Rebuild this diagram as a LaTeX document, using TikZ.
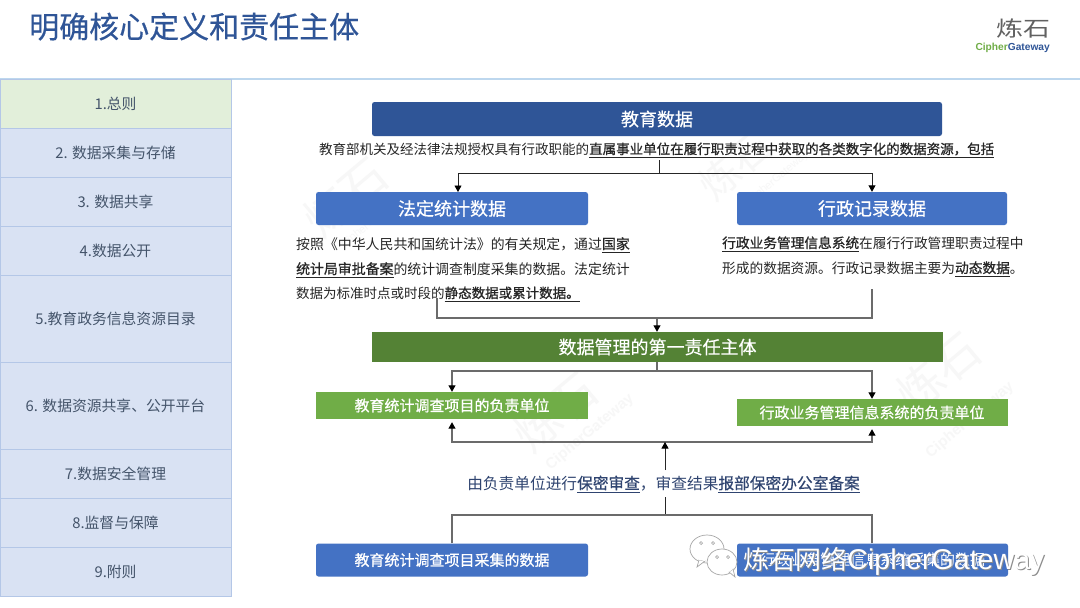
\documentclass[tikz,border=0pt]{standalone}
\usepackage{fontspec}
\setmainfont{Noto Sans CJK SC}
\newfontfamily\latinwm{Liberation Sans}
\newfontfamily\medf[FakeBold=0.4]{Noto Sans CJK SC}
\newfontfamily\semif[FakeBold=0.8]{Noto Sans CJK SC}
\usetikzlibrary{arrows.meta,calc}
\definecolor{navy}{HTML}{2F5597}
\definecolor{midblue}{HTML}{4472C4}
\definecolor{dkgreen}{HTML}{548235}
\definecolor{ltgreen}{HTML}{70AD47}
\definecolor{sideblue}{HTML}{D9E2F3}
\definecolor{sidegreen}{HTML}{E2EFDA}
\definecolor{sideline}{HTML}{B4C7E7}
\definecolor{topline}{HTML}{BDD7EE}
\definecolor{sidetext}{HTML}{44546A}
\definecolor{bodytxt}{HTML}{262626}
\definecolor{notetxt}{HTML}{2F4470}
\definecolor{connA}{HTML}{262626}
\definecolor{connB}{HTML}{6B6B6B}
\newcommand\fs[1]{\fontsize{#1}{#1}\selectfont}
\newcommand\ulb[1]{\vtop{\hbox{\semif #1}\kern1.8pt\hrule height .8pt}}
\newcommand\uln[1]{\vtop{\hbox{\medf #1}\kern1.8pt\hrule height .8pt}}
\newcommand\boxtxt[1]{\raisebox{1pt}{\medf\fs{18}#1}}
\newcommand\siderow[5][sideblue]{\node[side,fill=#1,minimum width=231pt,minimum height=#4pt] (#2) at (115.5,#3) {\fs{14.8}#5};}
\tikzset{
  side/.style={draw=sideline,line width=.9pt,fill=sideblue,text=sidetext,inner sep=0pt,anchor=center},
  rbox/.style={rounded corners=2.5pt,fill=#1,text=white,inner sep=0pt},
  sbox/.style={fill=#1,text=white,inner sep=0pt},
  para/.style={anchor=base west,inner sep=0pt,text=bodytxt},
  wm/.style={text=black!3,inner sep=0pt,rotate=40},
  connTop/.style={draw=connA,line width=.9pt},
  connLow/.style={draw=connB,line width=1.1pt},
  tipped/.style={-{Triangle[length=6.5pt,width=7pt,color=black,fill=black]}},
}
\begin{document}
\begin{tikzpicture}[x=1pt,y=-1pt]
\useasboundingbox (0,0) rectangle (1080,608);
\fill[white] (0,0) rectangle (1080,608);
% watermarks
\node[wm] (w1) at (345,197) {\fs{46}炼石};
\node[wm] (w2) at (372,222) {\latinwm\fs{11}CipherGateway};
\node[wm] (w3) at (735,165) {\fs{40}炼石};
\node[wm] (w4) at (778,178) {\latinwm\fs{11}CipherGateway};
\node[wm] (w5) at (555,412) {\fs{46}炼石};
\node[wm] (w6) at (590,432) {\latinwm\bfseries\fs{15}CipherGateway};
\node[wm] (w7) at (938,372) {\fs{46}炼石};
\node[wm] (w8) at (970,420) {\latinwm\bfseries\fs{15}CipherGateway};
% title and logo
\node[anchor=base west,inner sep=0pt,text=navy] (title) at (29,38) {\medf\fs{30}明确核心定义和责任主体};
\node[anchor=center,inner sep=0pt,text=black!62] (logocn) at (1023,28) {\scalebox{1}[.78]{\fs{27}炼石}};
\node[anchor=base east,inner sep=0pt] (logoen) at (1050,50) {\latinwm\bfseries\fs{10.2}\textcolor{ltgreen}{Cipher}\textcolor{navy}{Gateway}};
\draw[topline,line width=1.5pt] (0,79) -- (1080,79);
% sidebar
\siderow[sidegreen]{s1}{103.5}{49}{1.总则}
\siderow{s2}{152.5}{49}{2. 数据采集与存储}
\siderow{s3}{201.5}{49}{3. 数据共享}
\siderow{s4}{250.5}{49}{4.数据公开}
\siderow{s5}{318.5}{87}{5.教育政务信息资源目录}
\siderow{s6}{405.5}{87}{6. 数据资源共享、公开平台}
\siderow{s7}{473.5}{49}{7.数据安全管理}
\siderow{s8}{522.5}{49}{8.监督与保障}
\siderow{s9}{571.5}{49}{9.附则}
% main boxes
\node[rbox=navy,minimum width=570pt,minimum height=34pt] (edu) at (657,119) {\boxtxt{教育数据}};
\node[para] (defl) at (319,154) {\fs{13.5}教育部机关及经法律法规授权具有行政职能的\ulb{直属事业单位在履行职责过程中获取的各类数字化的数据资源，包括}};
\node[rbox=midblue,minimum width=272pt,minimum height=33pt] (stat) at (452,208.5) {\boxtxt{法定统计数据}};
\node[rbox=midblue,minimum width=270pt,minimum height=33pt] (admin) at (872,208.5) {\boxtxt{行政记录数据}};
\node[para] (p1) at (296,249) {\fs{13.9}按照《中华人民共和国统计法》的有关规定，通过\ulb{国家}};
\node[para] (p2) at (296,274) {\fs{13.9}\ulb{统计局审批备案}的统计调查制度采集的数据。法定统计};
\node[para] (p3) at (296,298) {\fs{13.5}数据为标准时点或时段的\ulb{静态数据或累计数据。}};
\node[para] (q1) at (722,248) {\fs{13.7}\ulb{行政业务管理信息系统}在履行行政管理职责过程中};
\node[para] (q2) at (722,273) {\fs{13.7}形成的数据资源。行政记录数据主要为\ulb{动态数据}。};
\node[sbox=dkgreen,minimum width=571pt,minimum height=30pt] (mgr) at (657.5,347) {\boxtxt{数据管理的第一责任主体}};
\node[sbox=ltgreen,minimum width=272pt,minimum height=27pt] (u1) at (452,405.5) {\semif\fs{15}教育统计调查项目的负责单位};
\node[sbox=ltgreen,minimum width=271pt,minimum height=27pt] (u2) at (872,412.5) {\medf\fs{15}行政业务管理信息系统的负责单位};
\node[anchor=base,inner sep=0pt,text=notetxt] (note) at (663.5,489) {\fs{15.7}由负责单位进行\uln{保密审查}，审查结果\uln{报部保密办公室备案}};
\node[rbox=midblue,minimum width=272pt,minimum height=33pt] (d1) at (452,560) {\semif\fs{15}教育统计调查项目采集的数据};
\node[rbox=midblue,minimum width=271pt,minimum height=33pt] (d2) at (872.5,560) {\fs{15}行政业务管理信息系统采集的数据};
% connector anchors
\coordinate (a1) at (659,160);
\coordinate (a2) at (659,173);
\coordinate (a3) at (458,173);
\coordinate (a4) at (458,192);
\coordinate (b1) at (437,298);
\coordinate (b2) at (437,318);
\coordinate (b3) at (872,289);
\coordinate (b4) at (872,318);
\coordinate (b5) at (657,318);
\coordinate (c1) at (657,371);
\coordinate (e3) at (665,442);
\coordinate (e4) at (665,470);
\coordinate (f1) at (665,497);
\coordinate (f2) at (665,515);
\coordinate (f4) at (872,515);
% connectors
\draw[connTop] (a1) -- (a2);
\draw[connTop,tipped] (a2) -- (a3) -- (a4);
\draw[connTop,tipped] (a2) -| (admin.north);
\draw[connLow] (b1) -- (b2) -- (b4) -- (b3);
\draw[connLow,tipped] (b5) -- (mgr.north -| b5);
\draw[connLow] (mgr.south -| c1) -- (c1);
\draw[connLow,tipped] (c1) -| (u1.north);
\draw[connLow,tipped] (c1) -| (u2.north);
\draw[connLow,tipped,shorten >=3pt] (e3) -| (u1.south);
\draw[connLow,tipped,shorten >=3pt] (e3) -| (u2.south);
\draw[connTop,tipped] (e4) -- (e3);
\draw[connTop] (f1) -- (f2);
\draw[connLow] (d1.north) |- (f2);
\draw[connLow] (d2.north -| f4) |- (f2);
% WeChat overlay
\begin{scope}[fill=white,draw=black!35,line width=.7pt]
\filldraw (707,549) ellipse [x radius=17pt,y radius=14pt];
\filldraw (699,560) -- (697,567) -- (705,561) -- cycle;
\fill (699,560) -- (705,561) -- (708,556) -- (700,554) -- cycle;
\filldraw (722,562) ellipse [x radius=15pt,y radius=13pt];
\filldraw (729,572) -- (735,577) -- (733,569) -- cycle;
\fill (729,572) -- (733,569) -- (730,565) -- (726,568) -- cycle;
\foreach \p in {(701,543),(713,543),(717,557),(728,557)} \draw \p circle (1.5pt);
\end{scope}
\node[anchor=base west,inner sep=0pt,text=black!45] (ovs) at (744.2,570.2) {\fs{26}炼石网络{\latinwm\fs{28.6}CipherGateway}};
\node[anchor=base west,inner sep=0pt,text=white] (ovw) at (743.2,569.2) {\fs{26}炼石网络{\latinwm\fs{28.6}CipherGateway}};
\end{tikzpicture}
\end{document}
